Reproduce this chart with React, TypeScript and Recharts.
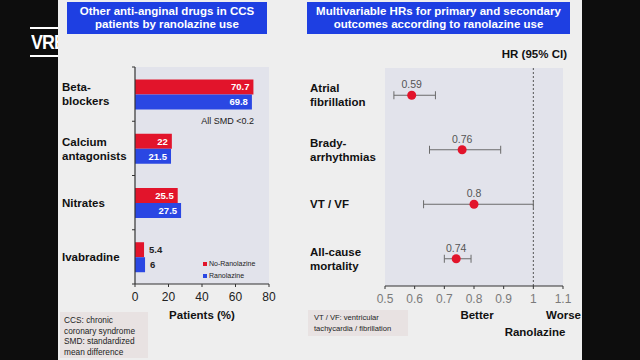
import React from "react";
import {
  BarChart,
  Bar,
  XAxis,
  YAxis,
  CartesianGrid,
  LabelList,
  Legend,
  ScatterChart,
  Scatter,
  ErrorBar,
  ReferenceLine,
} from "recharts";

// ---- Left chart data ----
const drugCategories = ["Beta-\nblockers", "Calcium\nantagonists", "Nitrates", "Ivabradine"];
const noRanolazine = [70.7, 22, 25.5, 5.4];
const ranolazine = [69.8, 21.5, 27.5, 6];
const patientTicks = [0, 20, 40, 60, 80];

// ---- Right chart data ----
const outcomes = ["Atrial\nfibrillation", "Brady-\narrhythmias", "VT / VF", "All-cause\nmortality"];
const hrValues = [0.59, 0.76, 0.8, 0.74];
const ciLower = [0.53, 0.65, 0.63, 0.7];
const ciUpper = [0.67, 0.89, 1.0, 0.79];
const hrTicks = [0.5, 0.6, 0.7, 0.8, 0.9, 1, 1.1];
const outcomeIndexTicks = [0, 1, 2, 3];

const barData = drugCategories.map((name, i) => ({
  name,
  no: noRanolazine[i],
  ran: ranolazine[i],
}));

const hrData = outcomes.map((name, i) => ({
  idx: i,
  name,
  hr: hrValues[i],
  err: [hrValues[i] - ciLower[i], ciUpper[i] - hrValues[i]],
}));

const FONT = "'Liberation Sans', Arial, Helvetica, sans-serif";
const RED = "#e2142b";
const BLUE = "#2a47e3";
const PLOT_BG = "#e2e3eb";
const SLIDE_BG = "#eeeeee";

const MultiLine = ({ x, y, text, size }: { x: number; y: number; text: string; size: number }) => {
  const lines = String(text).split("\n");
  const lh = 14;
  const start = y - ((lines.length - 1) * lh) / 2;
  return (
    <text x={x} y={start} textAnchor="start" fontSize={size} fontWeight="bold" fill="#111" fontFamily={FONT}>
      {lines.map((l, i) => (
        <tspan key={i} x={x} y={start + i * lh} dy="0.36em">
          {l}
        </tspan>
      ))}
    </text>
  );
};

const DrugTick = (props: any) => {
  const { x, y, payload, index, visibleTicksCount } = props;
  const off = payload && typeof payload.offset === "number" ? payload.offset : 0;
  const isLast = index === (visibleTicksCount ?? 4) - 1;
  return (
    <g>
      <MultiLine x={x - 73} y={y} text={payload.value} size={11.5} />
      {off > 0 && <line x1={x - 3} x2={x} y1={y - off} y2={y - off} stroke="#333" strokeWidth={1} />}
      {off > 0 && isLast && <line x1={x - 3} x2={x} y1={y + off} y2={y + off} stroke="#333" strokeWidth={1} />}
    </g>
  );
};

const OutcomeTick = (props: any) => {
  const { x, y, payload } = props;
  const label = outcomes[payload.value] ?? "";
  return <MultiLine x={x - 75} y={y} text={label} size={11.5} />;
};

const renderBarLabel = (p: any) => {
  const { x, y, width, height, value } = p;
  const inside = Number(value) > 10;
  return (
    <text
      x={inside ? x + width - 4 : x + width + 5}
      y={y + height / 2}
      dy="0.36em"
      textAnchor={inside ? "end" : "start"}
      fill={inside ? "#ffffff" : "#222"}
      fontSize={9.5}
      fontWeight="bold"
      fontFamily={FONT}
    >
      {value}
    </text>
  );
};

const LegendContent = (props: any) => {
  const items = props.payload || [];
  return (
    <div style={{ fontFamily: FONT, fontSize: 7, color: "#222", lineHeight: "12px" }}>
      {items.map((it: any, i: number) => (
        <div key={i} style={{ display: "flex", alignItems: "center" }}>
          <span style={{ display: "inline-block", width: 4, height: 4, background: it.color, marginRight: 2 }} />
          <span>{it.value}</span>
        </div>
      ))}
    </div>
  );
};

const HrShape = (p: any) => {
  const { cx, cy, payload } = p;
  return (
    <g>
      <circle cx={cx} cy={cy} r={4.5} fill={RED} />
      <text x={cx} y={cy - 7} textAnchor="middle" fontSize={10.5} fill="#555" fontFamily={FONT}>
        {payload.hr}
      </text>
    </g>
  );
};

const abs = (s: React.CSSProperties): React.CSSProperties => ({ position: "absolute", ...s });

export default function App() {
  return (
    <div
      style={{
        position: "fixed",
        left: 0,
        top: 0,
        width: 640,
        height: 360,
        background: "#0d0d0d",
        overflow: "hidden",
        fontFamily: FONT,
      }}
    >
      {/* logo */}
      <div style={abs({ left: 30, top: 27, width: 50, height: 2, background: "#fff" })} />
      <div style={abs({ left: 30, top: 55, width: 50, height: 2, background: "#fff" })} />
      <div
        style={abs({
          left: 31,
          top: 30,
          fontSize: 21,
          fontWeight: "bold",
          color: "#fff",
          letterSpacing: -1,
          lineHeight: "24px",
          transform: "scaleX(0.85)",
          transformOrigin: "left",
        })}
      >
        VRE
      </div>

      {/* slide */}
      <div style={abs({ left: 58, top: 0, width: 524, height: 360, background: SLIDE_BG })} />

      {/* titles */}
      <div
        style={abs({
          left: 67,
          top: 2,
          width: 200,
          height: 32,
          background: "#1e3fe2",
          color: "#fff",
          fontWeight: "bold",
          fontSize: 11.5,
          lineHeight: "13.5px",
          textAlign: "center",
          display: "flex",
          alignItems: "center",
          justifyContent: "center",
        })}
      >
        <div>
          Other anti-anginal drugs in CCS
          <br />
          patients by ranolazine use
        </div>
      </div>
      <div
        style={abs({
          left: 307,
          top: 2,
          width: 263,
          height: 32,
          background: "#1e3fe2",
          color: "#fff",
          fontWeight: "bold",
          fontSize: 11.5,
          lineHeight: "13.5px",
          textAlign: "center",
          display: "flex",
          alignItems: "center",
          justifyContent: "center",
        })}
      >
        <div>
          Multivariable HRs for primary and secondary
          <br />
          outcomes according to ranolazine use
        </div>
      </div>

      {/* left chart */}
      <div style={abs({ left: 0, top: 0 })}>
        <BarChart
          width={640}
          height={360}
          data={barData}
          layout="vertical"
          margin={{ top: 67, right: 371, bottom: 46, left: 60 }}
          barCategoryGap="23%"
          barGap={0}
        >
          <CartesianGrid fill={PLOT_BG} horizontal={false} vertical={false} stroke="none" />
          <XAxis
            type="number"
            domain={[0, 80]}
            ticks={patientTicks}
            height={30}
            tickSize={3}
            tickMargin={5}
            axisLine={{ stroke: "#333", strokeWidth: 1.2 }}
            tickLine={{ stroke: "#333" }}
            tick={{ fill: "#222", fontSize: 12, fontFamily: FONT }}
          />
          <YAxis
            type="category"
            dataKey="name"
            width={75}
            tickSize={0}
            tickMargin={0}
            tickLine={false}
            axisLine={{ stroke: "#333", strokeWidth: 1.2 }}
            tick={<DrugTick />}
            interval={0}
          />
          <Legend
            layout="vertical"
            align="center"
            verticalAlign="middle"
            wrapperStyle={{ left: 203, top: 258, width: 70 }}
            content={<LegendContent />}
          />
          <Bar dataKey="no" name="No-Ranolazine" fill={RED} isAnimationActive={false}>
            <LabelList dataKey="no" content={renderBarLabel} />
          </Bar>
          <Bar dataKey="ran" name="Ranolazine" fill={BLUE} isAnimationActive={false}>
            <LabelList dataKey="ran" content={renderBarLabel} />
          </Bar>
        </BarChart>
      </div>

      {/* right chart */}
      <div style={abs({ left: 0, top: 0 })}>
        <ScatterChart width={640} height={360} margin={{ top: 68, right: 77, bottom: 44, left: 305 }}>
          <CartesianGrid fill={PLOT_BG} horizontal={false} vertical={false} stroke="none" />
          <XAxis
            type="number"
            dataKey="hr"
            domain={[0.5, 1.1]}
            ticks={hrTicks}
            allowDataOverflow
            height={30}
            tickSize={3}
            tickMargin={5}
            axisLine={{ stroke: "#333", strokeWidth: 1.2 }}
            tickLine={{ stroke: "#333" }}
            tick={{ fill: "#7a7a7a", fontSize: 12, fontFamily: FONT }}
            tickFormatter={(v: number) => String(v)}
          />
          <YAxis
            type="number"
            dataKey="idx"
            domain={[-0.5, 3.5]}
            reversed
            ticks={outcomeIndexTicks}
            width={80}
            tickSize={0}
            tickMargin={0}
            axisLine={false}
            tickLine={false}
            tick={<OutcomeTick />}
            interval={0}
          />
          <ReferenceLine x={1} stroke="#555" strokeDasharray="2 2" strokeWidth={1} />
          <Scatter data={hrData} fill={RED} isAnimationActive={false} shape={<HrShape />}>
            <ErrorBar dataKey="err" direction="x" width={4} stroke="#6b6b6b" strokeWidth={1} />
          </Scatter>
        </ScatterChart>
      </div>

      {/* annotations */}
      <div style={abs({ left: 190, top: 116, width: 64, textAlign: "right", fontSize: 9, color: "#222" })}>
        All SMD &lt;0.2
      </div>
      <div style={abs({ left: 150, top: 309, width: 104, textAlign: "center", fontSize: 11.5, fontWeight: "bold", color: "#111" })}>
        Patients (%)
      </div>
      <div style={abs({ left: 480, top: 48, width: 87, textAlign: "right", fontSize: 11.5, fontWeight: "bold", color: "#111" })}>
        HR (95% CI)
      </div>
      <div style={abs({ left: 437, top: 309, width: 80, textAlign: "center", fontSize: 11.5, fontWeight: "bold", color: "#111" })}>
        Better
      </div>
      <div style={abs({ left: 546, top: 309, fontSize: 11.5, fontWeight: "bold", color: "#111" })}>
        Worse
      </div>
      <div style={abs({ left: 495, top: 326, width: 80, textAlign: "center", fontSize: 11.5, fontWeight: "bold", color: "#111" })}>
        Ranolazine
      </div>

      {/* footnotes */}
      <div
        style={abs({
          left: 60,
          top: 312,
          width: 88,
          height: 46,
          background: "#e8e2e2",
          fontSize: 8.3,
          lineHeight: "10.5px",
          color: "#222",
          padding: "3px 0 0 4px",
          boxSizing: "border-box",
        })}
      >
        CCS: chronic
        <br />
        coronary syndrome
        <br />
        SMD: standardized
        <br />
        mean difference
      </div>
      <div
        style={abs({
          left: 308,
          top: 310,
          width: 100,
          height: 26,
          background: "#e8e2e2",
          fontSize: 7.6,
          lineHeight: "10.5px",
          color: "#222",
          padding: "3px 0 0 6px",
          boxSizing: "border-box",
        })}
      >
        VT / VF: ventricular
        <br />
        tachycardia / fibrillation
      </div>

      {/* right black frame */}
      <div style={abs({ left: 582, top: 0, width: 58, height: 360, background: "#0d0d0d" })} />
    </div>
  );
}
